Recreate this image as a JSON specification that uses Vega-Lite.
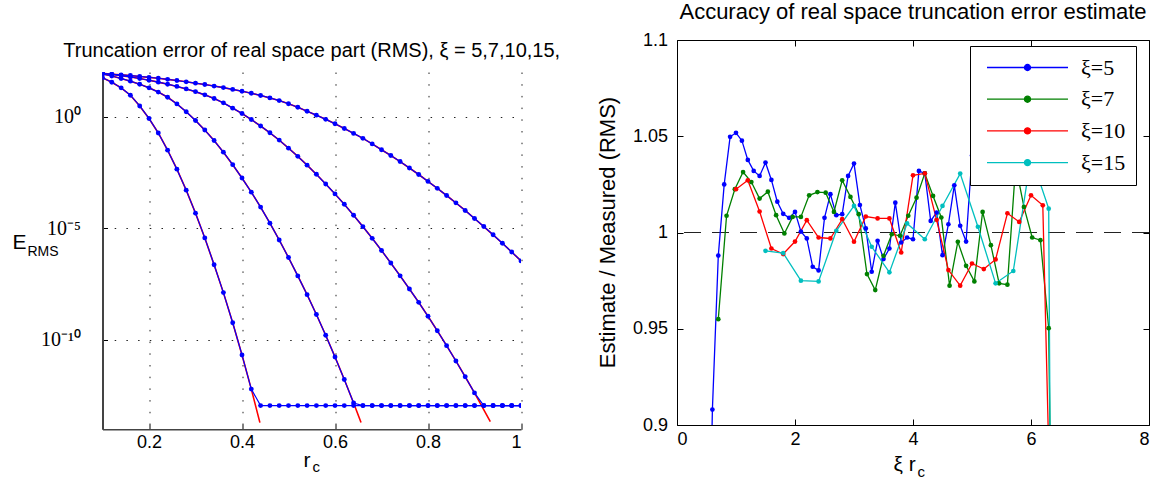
{
  "$schema": "https://vega.github.io/schema/vega-lite/v6.json",
  "background": "white",
  "padding": {"left": 11.5, "top": 0, "right": 0, "bottom": 0},
  "config": {
    "view": {"stroke": null},
    "font": "Liberation Sans",
    "axis": {"labelFont": "Liberation Sans", "titleFont": "Liberation Sans", "titleFontWeight": "normal", "labelColor": "#000", "titleColor": "#000", "tickColor": "#000", "domainColor": "#000"},
    "title": {"font": "Liberation Sans", "fontWeight": "normal", "color": "#000"}
  },
  "datasets": {
    "err": [
      {"k":5,"r":0.1,"m":83.2,"e":83.2},{"k":5,"r":0.12,"m":79.4,"e":79.4},{"k":5,"r":0.14,"m":74.1,"e":74.1},{"k":5,"r":0.16,"m":69.2,"e":69.2},{"k":5,"r":0.18,"m":63.1,"e":63.1},{"k":5,"r":0.2,"m":57.5,"e":57.5},{"k":5,"r":0.22,"m":52.5,"e":52.5},{"k":5,"r":0.24,"m":46.8,"e":46.8},{"k":5,"r":0.26,"m":41.7,"e":41.7},{"k":5,"r":0.28,"m":36.3,"e":36.3},{"k":5,"r":0.3,"m":31.6,"e":31.6},{"k":5,"r":0.32,"m":27.5,"e":27.5},{"k":5,"r":0.34,"m":23.4,"e":23.4},{"k":5,"r":0.36,"m":20.0,"e":20.0},{"k":5,"r":0.38,"m":16.6,"e":16.6},{"k":5,"r":0.4,"m":13.8,"e":13.8},{"k":5,"r":0.42,"m":11.2,"e":11.2},{"k":5,"r":0.44,"m":8.91,"e":8.91},{"k":5,"r":0.46,"m":6.92,"e":6.92},{"k":5,"r":0.48,"m":5.25,"e":5.25},{"k":5,"r":0.5,"m":3.8,"e":3.8},{"k":5,"r":0.52,"m":2.63,"e":2.63},{"k":5,"r":0.54,"m":1.74,"e":1.74},{"k":5,"r":0.56,"m":1.17,"e":1.17},{"k":5,"r":0.58,"m":0.759,"e":0.759},{"k":5,"r":0.6,"m":0.479,"e":0.479},{"k":5,"r":0.62,"m":0.295,"e":0.295},{"k":5,"r":0.64,"m":0.178,"e":0.178},{"k":5,"r":0.66,"m":0.107,"e":0.107},{"k":5,"r":0.68,"m":0.0603,"e":0.0603},{"k":5,"r":0.7,"m":0.0331,"e":0.0331},{"k":5,"r":0.72,"m":0.0182,"e":0.0182},{"k":5,"r":0.74,"m":0.00977,"e":0.00977},{"k":5,"r":0.76,"m":0.00501,"e":0.00501},{"k":5,"r":0.78,"m":0.00257,"e":0.00257},{"k":5,"r":0.8,"m":0.00126,"e":0.00126},{"k":5,"r":0.82,"m":6.17e-4,"e":6.17e-4},{"k":5,"r":0.84,"m":2.95e-4,"e":2.95e-4},{"k":5,"r":0.86,"m":1.38e-4,"e":1.38e-4},{"k":5,"r":0.88,"m":6.31e-5,"e":6.31e-5},{"k":5,"r":0.9,"m":2.75e-5,"e":2.75e-5},{"k":5,"r":0.92,"m":1.2e-5,"e":1.2e-5},{"k":5,"r":0.94,"m":5.13e-6,"e":5.13e-6},{"k":5,"r":0.96,"m":2.14e-6,"e":2.14e-6},{"k":5,"r":0.98,"m":8.71e-7,"e":8.71e-7},{"k":5,"r":1,"m":3.47e-7,"e":3.47e-7},
      {"k":7,"r":0.1,"m":87.1,"e":87.1},{"k":7,"r":0.12,"m":78.7,"e":78.7},{"k":7,"r":0.14,"m":68.9,"e":68.9},{"k":7,"r":0.16,"m":60.3,"e":60.3},{"k":7,"r":0.18,"m":51.3,"e":51.3},{"k":7,"r":0.2,"m":42.7,"e":42.7},{"k":7,"r":0.22,"m":35.2,"e":35.2},{"k":7,"r":0.24,"m":28.4,"e":28.4},{"k":7,"r":0.26,"m":22.6,"e":22.6},{"k":7,"r":0.28,"m":17.5,"e":17.5},{"k":7,"r":0.3,"m":13.2,"e":13.2},{"k":7,"r":0.32,"m":9.46,"e":9.46},{"k":7,"r":0.34,"m":6.52,"e":6.52},{"k":7,"r":0.36,"m":4.15,"e":4.15},{"k":7,"r":0.38,"m":2.41,"e":2.41},{"k":7,"r":0.4,"m":1.38,"e":1.38},{"k":7,"r":0.42,"m":0.741,"e":0.741},{"k":7,"r":0.44,"m":0.382,"e":0.382},{"k":7,"r":0.46,"m":0.189,"e":0.189},{"k":7,"r":0.48,"m":0.0891,"e":0.0891},{"k":7,"r":0.5,"m":0.0389,"e":0.0389},{"k":7,"r":0.52,"m":0.0167,"e":0.0167},{"k":7,"r":0.54,"m":0.00673,"e":0.00673},{"k":7,"r":0.56,"m":0.00262,"e":0.00262},{"k":7,"r":0.58,"m":9.64e-4,"e":9.64e-4},{"k":7,"r":0.6,"m":3.47e-4,"e":3.47e-4},{"k":7,"r":0.62,"m":1.19e-4,"e":1.19e-4},{"k":7,"r":0.64,"m":3.82e-5,"e":3.82e-5},{"k":7,"r":0.66,"m":1.19e-5,"e":1.19e-5},{"k":7,"r":0.68,"m":3.56e-6,"e":3.56e-6},{"k":7,"r":0.7,"m":1.02e-6,"e":1.02e-6},{"k":7,"r":0.72,"m":2.79e-7,"e":2.79e-7},{"k":7,"r":0.74,"m":7.45e-8,"e":7.45e-8},{"k":7,"r":0.76,"m":1.93e-8,"e":1.93e-8},{"k":7,"r":0.78,"m":4.85e-9,"e":4.85e-9},{"k":7,"r":0.8,"m":1.15e-9,"e":1.15e-9},{"k":7,"r":0.82,"m":2.58e-10,"e":2.58e-10},{"k":7,"r":0.84,"m":5.57e-11,"e":5.57e-11},{"k":7,"r":0.86,"m":1.15e-11,"e":1.15e-11},{"k":7,"r":0.88,"m":2.26e-12,"e":2.26e-12},{"k":7,"r":0.9,"m":4.27e-13,"e":4.27e-13},{"k":7,"r":0.92,"m":1.15e-13},{"k":7,"r":0.934,"e":2.2e-14},{"k":7,"r":0.94,"m":1.15e-13},{"k":7,"r":0.96,"m":1.15e-13},{"k":7,"r":0.98,"m":1.15e-13},{"k":7,"r":1,"m":1.15e-13},
      {"k":10,"r":0.1,"m":81.3,"e":81.3},{"k":10,"r":0.12,"m":66.1,"e":66.1},{"k":10,"r":0.14,"m":51.3,"e":51.3},{"k":10,"r":0.16,"m":38.9,"e":38.9},{"k":10,"r":0.18,"m":28.2,"e":28.2},{"k":10,"r":0.2,"m":19.5,"e":19.5},{"k":10,"r":0.22,"m":12.6,"e":12.6},{"k":10,"r":0.24,"m":7.41,"e":7.41},{"k":10,"r":0.26,"m":3.72,"e":3.72},{"k":10,"r":0.28,"m":1.66,"e":1.66},{"k":10,"r":0.3,"m":0.676,"e":0.676},{"k":10,"r":0.32,"m":0.251,"e":0.251},{"k":10,"r":0.34,"m":0.0851,"e":0.0851},{"k":10,"r":0.36,"m":0.0257,"e":0.0257},{"k":10,"r":0.38,"m":0.00708,"e":0.00708},{"k":10,"r":0.4,"m":0.00178,"e":0.00178},{"k":10,"r":0.42,"m":4.17e-4,"e":4.17e-4},{"k":10,"r":0.44,"m":8.91e-5,"e":8.91e-5},{"k":10,"r":0.46,"m":1.7e-5,"e":1.7e-5},{"k":10,"r":0.48,"m":3.02e-6,"e":3.02e-6},{"k":10,"r":0.5,"m":4.9e-7,"e":4.9e-7},{"k":10,"r":0.52,"m":7.41e-8,"e":7.41e-8},{"k":10,"r":0.54,"m":1.07e-8,"e":1.07e-8},{"k":10,"r":0.56,"m":1.38e-9,"e":1.38e-9},{"k":10,"r":0.58,"m":1.62e-10,"e":1.62e-10},{"k":10,"r":0.6,"m":1.74e-11,"e":1.74e-11},{"k":10,"r":0.62,"m":1.7e-12,"e":1.7e-12},{"k":10,"r":0.64,"m":1.51e-13,"e":1.51e-13},{"k":10,"r":0.656,"e":2.0e-14},{"k":10,"r":0.66,"m":1.15e-13},{"k":10,"r":0.68,"m":1.15e-13},{"k":10,"r":0.7,"m":1.15e-13},{"k":10,"r":0.72,"m":1.15e-13},{"k":10,"r":0.74,"m":1.15e-13},{"k":10,"r":0.76,"m":1.15e-13},{"k":10,"r":0.78,"m":1.15e-13},{"k":10,"r":0.8,"m":1.15e-13},{"k":10,"r":0.82,"m":1.15e-13},{"k":10,"r":0.84,"m":1.15e-13},{"k":10,"r":0.86,"m":1.15e-13},{"k":10,"r":0.88,"m":1.15e-13},{"k":10,"r":0.9,"m":1.15e-13},{"k":10,"r":0.92,"m":1.15e-13},{"k":10,"r":0.94,"m":1.15e-13},{"k":10,"r":0.96,"m":1.15e-13},{"k":10,"r":0.98,"m":1.15e-13},{"k":10,"r":1,"m":1.15e-13},
      {"k":15,"r":0.1,"m":55.0,"e":55.0},{"k":15,"r":0.12,"m":34.7,"e":34.7},{"k":15,"r":0.14,"m":19.5,"e":19.5},{"k":15,"r":0.16,"m":9.12,"e":9.12},{"k":15,"r":0.18,"m":3.02,"e":3.02},{"k":15,"r":0.2,"m":0.832,"e":0.832},{"k":15,"r":0.22,"m":0.186,"e":0.186},{"k":15,"r":0.24,"m":0.0316,"e":0.0316},{"k":15,"r":0.26,"m":0.00447,"e":0.00447},{"k":15,"r":0.28,"m":5.13e-4,"e":5.13e-4},{"k":15,"r":0.3,"m":4.79e-5,"e":4.79e-5},{"k":15,"r":0.32,"m":3.72e-6,"e":3.72e-6},{"k":15,"r":0.34,"m":2.34e-7,"e":2.34e-7},{"k":15,"r":0.36,"m":1.32e-8,"e":1.32e-8},{"k":15,"r":0.38,"m":5.89e-10,"e":5.89e-10},{"k":15,"r":0.4,"m":2.14e-11,"e":2.14e-11},{"k":15,"r":0.42,"m":6.31e-13,"e":6.31e-13},{"k":15,"r":0.4385,"e":2.0e-14},{"k":15,"r":0.44,"m":1.15e-13},{"k":15,"r":0.46,"m":1.15e-13},{"k":15,"r":0.48,"m":1.15e-13},{"k":15,"r":0.5,"m":1.15e-13},{"k":15,"r":0.52,"m":1.15e-13},{"k":15,"r":0.54,"m":1.15e-13},{"k":15,"r":0.56,"m":1.15e-13},{"k":15,"r":0.58,"m":1.15e-13},{"k":15,"r":0.6,"m":1.15e-13},{"k":15,"r":0.62,"m":1.15e-13},{"k":15,"r":0.64,"m":1.15e-13},{"k":15,"r":0.66,"m":1.15e-13},{"k":15,"r":0.68,"m":1.15e-13},{"k":15,"r":0.7,"m":1.15e-13},{"k":15,"r":0.72,"m":1.15e-13},{"k":15,"r":0.74,"m":1.15e-13},{"k":15,"r":0.76,"m":1.15e-13},{"k":15,"r":0.78,"m":1.15e-13},{"k":15,"r":0.8,"m":1.15e-13},{"k":15,"r":0.82,"m":1.15e-13},{"k":15,"r":0.84,"m":1.15e-13},{"k":15,"r":0.86,"m":1.15e-13},{"k":15,"r":0.88,"m":1.15e-13},{"k":15,"r":0.9,"m":1.15e-13},{"k":15,"r":0.92,"m":1.15e-13},{"k":15,"r":0.94,"m":1.15e-13},{"k":15,"r":0.96,"m":1.15e-13},{"k":15,"r":0.98,"m":1.15e-13},{"k":15,"r":1,"m":1.15e-13}
    ],
    "ratio": [
      {"k":"ξ=5","x":0.5,"v":0.75},{"k":"ξ=5","x":0.6,"v":0.908},{"k":"ξ=5","x":0.7,"v":0.988},{"k":"ξ=5","x":0.8,"v":1.025},{"k":"ξ=5","x":0.9,"v":1.0497},{"k":"ξ=5","x":1.0,"v":1.0518},{"k":"ξ=5","x":1.1,"v":1.0477},{"k":"ξ=5","x":1.2,"v":1.0377},{"k":"ξ=5","x":1.3,"v":1.032},{"k":"ξ=5","x":1.4,"v":1.0294},{"k":"ξ=5","x":1.5,"v":1.0363},{"k":"ξ=5","x":1.6,"v":1.0273},{"k":"ξ=5","x":1.7,"v":1.016},{"k":"ξ=5","x":1.8,"v":1.0097},{"k":"ξ=5","x":1.9,"v":1.0076},{"k":"ξ=5","x":2.0,"v":1.0107},{"k":"ξ=5","x":2.1,"v":1.0005},{"k":"ξ=5","x":2.2,"v":0.9969},{"k":"ξ=5","x":2.3,"v":0.9822},{"k":"ξ=5","x":2.4,"v":0.9803},{"k":"ξ=5","x":2.5,"v":1.0076},{"k":"ξ=5","x":2.6,"v":1.0199},{"k":"ξ=5","x":2.7,"v":1.009},{"k":"ξ=5","x":2.8,"v":1.0095},{"k":"ξ=5","x":2.9,"v":1.0294},{"k":"ξ=5","x":3.0,"v":1.0358},{"k":"ξ=5","x":3.1,"v":1.0143},{"k":"ξ=5","x":3.2,"v":1.0021},{"k":"ξ=5","x":3.3,"v":0.9796},{"k":"ξ=5","x":3.4,"v":0.9957},{"k":"ξ=5","x":3.5,"v":0.9862},{"k":"ξ=5","x":3.6,"v":0.9917},{"k":"ξ=5","x":3.7,"v":1.0155},{"k":"ξ=5","x":3.8,"v":0.9948},{"k":"ξ=5","x":3.9,"v":0.9974},{"k":"ξ=5","x":4.0,"v":0.9965},{"k":"ξ=5","x":4.1,"v":1.032},{"k":"ξ=5","x":4.2,"v":1.0307},{"k":"ξ=5","x":4.3,"v":1.006},{"k":"ξ=5","x":4.4,"v":1.0104},{"k":"ξ=5","x":4.5,"v":0.9882},{"k":"ξ=5","x":4.6,"v":1.0043},{"k":"ξ=5","x":4.7,"v":1.0245},{"k":"ξ=5","x":4.8,"v":1.0035},{"k":"ξ=5","x":4.9,"v":0.9953},{"k":"ξ=5","x":5.0,"v":1.04},
      {"k":"ξ=7","x":0.7,"v":0.955},{"k":"ξ=7","x":0.84,"v":1.0087},{"k":"ξ=7","x":0.98,"v":1.0225},{"k":"ξ=7","x":1.12,"v":1.0314},{"k":"ξ=7","x":1.26,"v":1.0262},{"k":"ξ=7","x":1.4,"v":1.0176},{"k":"ξ=7","x":1.54,"v":1.0212},{"k":"ξ=7","x":1.68,"v":1.009},{"k":"ξ=7","x":1.82,"v":0.9995},{"k":"ξ=7","x":1.96,"v":1.0081},{"k":"ξ=7","x":2.1,"v":1.0081},{"k":"ξ=7","x":2.24,"v":1.0193},{"k":"ξ=7","x":2.38,"v":1.021},{"k":"ξ=7","x":2.52,"v":1.0207},{"k":"ξ=7","x":2.66,"v":1.0107},{"k":"ξ=7","x":2.8,"v":1.0271},{"k":"ξ=7","x":2.94,"v":1.0185},{"k":"ξ=7","x":3.08,"v":1.0095},{"k":"ξ=7","x":3.22,"v":0.9784},{"k":"ξ=7","x":3.36,"v":0.9701},{"k":"ξ=7","x":3.5,"v":0.9879},{"k":"ξ=7","x":3.64,"v":0.9991},{"k":"ξ=7","x":3.78,"v":0.9983},{"k":"ξ=7","x":3.92,"v":1.0087},{"k":"ξ=7","x":4.06,"v":1.0181},{"k":"ξ=7","x":4.2,"v":1.0307},{"k":"ξ=7","x":4.34,"v":1.019},{"k":"ξ=7","x":4.48,"v":1.0078},{"k":"ξ=7","x":4.62,"v":0.9724},{"k":"ξ=7","x":4.76,"v":0.9952},{"k":"ξ=7","x":4.9,"v":0.9827},{"k":"ξ=7","x":5.04,"v":0.9746},{"k":"ξ=7","x":5.18,"v":1.0107},{"k":"ξ=7","x":5.32,"v":0.9934},{"k":"ξ=7","x":5.46,"v":0.9736},{"k":"ξ=7","x":5.6,"v":0.9729},{"k":"ξ=7","x":5.74,"v":1.035},{"k":"ξ=7","x":5.88,"v":1.0133},{"k":"ξ=7","x":6.02,"v":0.9974},{"k":"ξ=7","x":6.16,"v":0.996},{"k":"ξ=7","x":6.3,"v":0.9503},{"k":"ξ=7","x":6.44,"v":0.6},
      {"k":"ξ=10","x":1.0,"v":1.0225},{"k":"ξ=10","x":1.2,"v":1.0271},{"k":"ξ=10","x":1.4,"v":1.0109},{"k":"ξ=10","x":1.6,"v":0.9917},{"k":"ξ=10","x":1.8,"v":0.9888},{"k":"ξ=10","x":2.0,"v":0.9953},{"k":"ξ=10","x":2.2,"v":1.0064},{"k":"ξ=10","x":2.4,"v":0.9974},{"k":"ξ=10","x":2.6,"v":0.9969},{"k":"ξ=10","x":2.8,"v":1.0069},{"k":"ξ=10","x":3.0,"v":0.9952},{"k":"ξ=10","x":3.2,"v":1.0083},{"k":"ξ=10","x":3.4,"v":1.0073},{"k":"ξ=10","x":3.6,"v":1.0073},{"k":"ξ=10","x":3.8,"v":0.9896},{"k":"ξ=10","x":4.0,"v":1.0297},{"k":"ξ=10","x":4.2,"v":1.0307},{"k":"ξ=10","x":4.4,"v":1.0066},{"k":"ξ=10","x":4.6,"v":0.9805},{"k":"ξ=10","x":4.8,"v":0.9724},{"k":"ξ=10","x":5.0,"v":0.9839},{"k":"ξ=10","x":5.2,"v":0.981},{"k":"ξ=10","x":5.4,"v":0.986},{"k":"ξ=10","x":5.6,"v":1.01},{"k":"ξ=10","x":5.8,"v":1.0055},{"k":"ξ=10","x":6.0,"v":1.0193},{"k":"ξ=10","x":6.2,"v":1.0141},{"k":"ξ=10","x":6.4,"v":0.76},
      {"k":"ξ=15","x":1.5,"v":0.9905},{"k":"ξ=15","x":1.8,"v":0.9893},{"k":"ξ=15","x":2.1,"v":0.975},{"k":"ξ=15","x":2.4,"v":0.9746},{"k":"ξ=15","x":2.7,"v":1.0009},{"k":"ξ=15","x":3.0,"v":1.0138},{"k":"ξ=15","x":3.3,"v":0.9926},{"k":"ξ=15","x":3.6,"v":0.9793},{"k":"ξ=15","x":3.9,"v":1.0047},{"k":"ξ=15","x":4.2,"v":0.9965},{"k":"ξ=15","x":4.5,"v":1.0138},{"k":"ξ=15","x":4.8,"v":1.0306},{"k":"ξ=15","x":5.1,"v":1.003},{"k":"ξ=15","x":5.4,"v":0.9736},{"k":"ξ=15","x":5.7,"v":0.98},{"k":"ξ=15","x":6.0,"v":1.0397},{"k":"ξ=15","x":6.3,"v":1.0124},{"k":"ξ=15","x":6.6,"v":-0.5}
    ]
  },
  "spacing": 35.5,
  "resolve": {"scale": {"color": "independent"}},
  "hconcat": [
    {
      "bounds": "flush",
      "spacing": 0,
      "vconcat": [
        {
          "width": 418.5,
          "height": 32,
          "data": {"values": []},
          "mark": {"type": "point", "opacity": 0}
        },
        {
          "width": 418.5,
          "height": 357.3,
          "title": {"text": ["", "Truncation error of real space part (RMS), ξ = 5,7,10,15,"], "fontSize": 20, "lineHeight": 4, "offset": 10},
          "data": {"name": "err"},
          "layer": [
            {
              "transform": [{"filter": "isValid(datum.e)"}],
              "mark": {"type": "line", "color": "#ff0000", "strokeWidth": 1.6, "clip": true},
              "encoding": {
                "x": {"field": "r", "type": "quantitative", "scale": {"domain": [0.1, 1], "nice": false, "zero": false},
                  "axis": {"orient": "bottom", "values": [0.2, 0.4, 0.6, 0.8, 1], "format": ".1~f", "labelFontSize": 18, "labelPadding": 9.5, "tickSize": -5, "domainColor": "#444", "domainWidth": 1.5,
                    "grid": true, "gridDash": [1.5, 10.2], "gridColor": "#222", "gridWidth": 1,
                    "title": "r", "titleFontSize": 21, "titleAngle": 0, "titleX": 200.5, "titleY": 37, "titleAlign": "left", "titleBaseline": "alphabetic"}},
                "y": {"field": "e", "type": "quantitative", "scale": {"type": "log", "domain": [1e-14, 100], "nice": false},
                  "axis": {"orient": "left", "values": [1, 1e-5, 1e-10], "labelExpr": "datum.value > 0.1 ? '10⁰' : datum.value > 1e-7 ? '10⁻⁵' : '10⁻¹⁰'", "labelFont": "Liberation Serif", "labelFontSize": 20, "labelPadding": 27, "tickSize": -5, "domainColor": "#444", "domainWidth": 2,
                    "grid": true, "gridDash": [1.5, 10.2], "gridColor": "#222", "gridWidth": 1,
                    "title": "E", "titleFontSize": 21, "titleAngle": 0, "titleX": -90.5, "titleY": 176, "titleAlign": "left", "titleBaseline": "alphabetic"}},
                "detail": {"field": "k", "type": "nominal"}
              }
            },
            {
              "transform": [{"filter": "isValid(datum.m)"}],
              "mark": {"type": "line", "color": "#0000ff", "strokeWidth": 1.2, "clip": true},
              "encoding": {
                "x": {"field": "r", "type": "quantitative", "axis": null},
                "y": {"field": "m", "type": "quantitative", "axis": null},
                "detail": {"field": "k", "type": "nominal"}
              }
            },
            {
              "transform": [{"filter": "isValid(datum.m)"}],
              "mark": {"type": "point", "filled": true, "color": "#0000ff", "size": 24, "opacity": 1, "clip": true},
              "encoding": {
                "x": {"field": "r", "type": "quantitative", "axis": null},
                "y": {"field": "m", "type": "quantitative", "axis": null}
              }
            },
            {
              "transform": [{"filter": "isValid(datum.m)"}],
              "mark": {"type": "point", "opacity": 0},
              "encoding": {
                "x": {"field": "r", "type": "quantitative", "axis": {"orient": "top", "domain": false, "ticks": false, "labels": false, "grid": false, "title": "c", "titleFontSize": 15, "titleAngle": 0, "titleX": 209.5, "titleY": 399, "titleAlign": "left", "titleBaseline": "alphabetic"}},
                "y": {"field": "m", "type": "quantitative", "axis": {"orient": "right", "domain": false, "ticks": false, "labels": false, "grid": false, "title": "RMS", "titleFontSize": 14, "titleAngle": 0, "titleX": -494, "titleY": 183, "titleAlign": "left", "titleBaseline": "alphabetic"}}
              }
            }
          ],
          "resolve": {"axis": {"x": "independent", "y": "independent"}}
        }
      ]
    },
    {
      "width": 472,
      "height": 385,
      "view": {"stroke": "#000", "strokeWidth": 1},
      "title": {"text": "Accuracy of real space truncation error estimate", "fontSize": 22, "offset": 6.6},
      "data": {"name": "ratio"},
      "layer": [
        {
          "mark": {"type": "rule", "strokeDash": [17, 11], "color": "#222", "strokeWidth": 1},
          "encoding": {"y": {"datum": 1, "type": "quantitative", "axis": null}}
        },
        {
          "mark": {"type": "line", "strokeWidth": 1.3, "clip": true},
          "encoding": {
            "x": {"field": "x", "type": "quantitative", "scale": {"domain": [0, 8], "nice": false},
              "axis": {"orient": "bottom", "values": [0, 2, 4, 6, 8], "labelFontSize": 18, "labelPadding": 11, "tickSize": -6, "domain": false, "grid": false,
                "title": "ξ r", "titleFontSize": 21, "titleAngle": 0, "titleX": 216, "titleY": 45, "titleAlign": "left", "titleBaseline": "alphabetic"}},
            "y": {"field": "v", "type": "quantitative", "scale": {"domain": [0.9, 1.1], "nice": false, "zero": false},
              "axis": {"orient": "left", "values": [0.9, 0.95, 1, 1.05, 1.1], "format": ".2~f", "labelFontSize": 18, "labelPadding": 15.5, "tickSize": -6, "domain": false, "grid": false,
                "title": "Estimate / Measured (RMS)", "titleFontSize": 22, "titleAngle": 270, "titleX": -69.5, "titleY": 192, "titleAlign": "center", "titleBaseline": "middle"}},
            "color": {"field": "k", "type": "nominal",
              "scale": {"domain": ["ξ=5", "ξ=7", "ξ=10", "ξ=15"], "range": ["#0000ff", "#008000", "#ff0000", "#00bfbf"]},
              "legend": {"orient": "none", "legendX": 293, "legendY": 6, "title": null, "labelFont": "Liberation Serif", "labelFontSize": 22, "labelColor": "#000",
                "symbolType": "M-4,0L4,0M-0.3,0A0.3,0.3,0,1,1,0.3,0A0.3,0.3,0,1,1,-0.3,0Z", "symbolSize": 410, "symbolStrokeWidth": 1.3,
                "symbolOffset": 36, "labelOffset": 42.5, "rowPadding": 9.7, "padding": 10.5, "strokeColor": "#000", "fillColor": "#fff", "cornerRadius": 0,
                "encode": {"symbols": {"update": {
                  "fill": {"signal": "datum.value == 'ξ=5' ? '#0000ff' : datum.value == 'ξ=7' ? '#008000' : datum.value == 'ξ=10' ? '#ff0000' : '#00bfbf'"},
                  "stroke": {"signal": "datum.value == 'ξ=5' ? '#0000ff' : datum.value == 'ξ=7' ? '#008000' : datum.value == 'ξ=10' ? '#ff0000' : '#00bfbf'"},
                  "opacity": {"value": 1}
                }}}}
            }
          }
        },
        {
          "mark": {"type": "point", "filled": true, "size": 22, "opacity": 1, "clip": true},
          "encoding": {
            "x": {"field": "x", "type": "quantitative", "axis": null},
            "y": {"field": "v", "type": "quantitative", "axis": null},
            "color": {"field": "k", "type": "nominal", "legend": null}
          }
        },
        {
          "mark": {"type": "point", "opacity": 0, "clip": true},
          "encoding": {
            "x": {"field": "x", "type": "quantitative", "axis": {"orient": "top", "values": [0, 2, 4, 6, 8], "labels": false, "tickSize": -6, "domain": false, "grid": false,
              "title": "c", "titleFontSize": 15, "titleAngle": 0, "titleX": 240, "titleY": 436, "titleAlign": "left", "titleBaseline": "alphabetic"}},
            "y": {"field": "v", "type": "quantitative", "axis": {"orient": "right", "values": [0.9, 0.95, 1, 1.05, 1.1], "labels": false, "tickSize": -6, "domain": false, "grid": false, "title": null}}
          }
        }
      ],
      "resolve": {"axis": {"x": "independent", "y": "independent"}}
    }
  ]
}
